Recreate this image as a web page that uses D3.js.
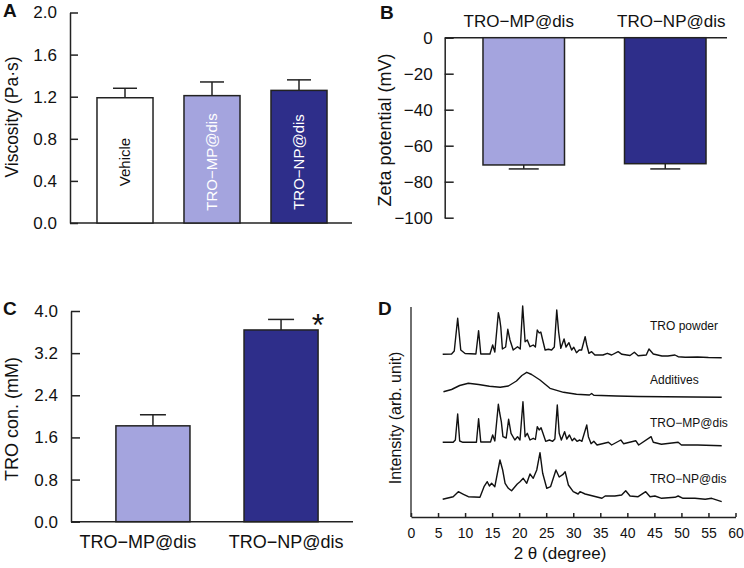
<!DOCTYPE html>
<html lang="en">
<head>
<meta charset="UTF-8"/>
<title>TRO formulations</title>
<script src="https://d3js.org/d3.v7.js"></script>
<style>
  body { margin: 0; background: #fff; }
  svg text { font-family: "Liberation Sans", Arial, sans-serif; fill: #111; }
</style>
</head>
<body>
<div id="fig"></div>
<script>
// ---- data ----
const viscCats = ["Vehicle", "TRO−MP@dis", "TRO−NP@dis"];
const viscMean = [1.19, 1.21, 1.26];
const viscErr  = [0.09, 0.13, 0.10];
const viscTicks = [0, 0.4, 0.8, 1.2, 1.6, 2.0];

const zetaCats = ["TRO−MP@dis", "TRO−NP@dis"];
const zetaMean = [-70.7, -70.0];
const zetaErr  = [2.2, 2.9];
const zetaTicks = [0, -20, -40, -60, -80, -100];

const concCats = ["TRO−MP@dis", "TRO−NP@dis"];
const concMean = [1.82, 3.64];
const concErr  = [0.21, 0.20];
const concTicks = [0, 0.8, 1.6, 2.4, 3.2, 4.0];

const xrdTicks = d3.range(0, 61, 5);
const xrdNames = ["TRO powder", "Additives", "TRO−MP@dis", "TRO−NP@dis"];

// [2theta, intensity] (arb. unit, curves stacked)
const xrdPowder = [[5.86,162.7],[7.5,163],[8.0,166],[8.63,198.7],[9.2,167],[10,163.5],[12.0,163],[12.5,186.3],[12.9,163],
  [14.6,163],[15.1,172],[15.5,165],[16.15,204.3],[16.4,198],[16.6,190],[16.9,168],[17.5,170],[17.9,187.7],[18.3,177],
  [18.9,167],[19.7,170.3],[20.2,168],[20.65,211],[21.1,175.3],[21.5,177],[22.0,170.3],[22.6,172],[23.0,170],[23.35,187],
  [23.7,184],[24.0,185],[24.35,177],[24.8,167],[25.4,167.7],[26.0,167],[26.5,170],[26.95,207],[27.3,185],[27.7,168.7],
  [28.3,178],[28.66,170],[29.2,174.3],[29.7,167],[30.1,169.7],[30.6,164.3],[31.1,167],[31.55,167],[32.2,180.3],[32.5,172],
  [32.9,163.7],[33.4,165.3],[34.0,162],[35.5,162],[36.3,163.7],[37.1,162],[38.3,165.3],[39.0,162.7],[40.5,161.5],[41.3,164.7],
  [42.0,161.3],[43.5,162],[44.0,168],[44.8,163],[46.4,161],[47.5,161],[48.8,162],[49.4,160.3],[50.7,159.7],[53,160],[55,159.5],[57.45,159.3]];
const xrdAdditives = [[6.0,125.3],[7.5,127.5],[9.0,131.5],[10.6,133.7],[12.5,132.5],[14.5,130.8],[16.5,129.7],[18.0,131],
  [19.5,136],[20.5,141.5],[21.4,144.7],[22.3,142.5],[23.85,137],[25.7,128.7],[28.2,124.7],[30.6,122.7],[33.0,122],[33.4,123.5],
  [33.8,121.8],[38,121],[42,120.5],[47,120.3],[52,120],[57.45,119.7]];
const xrdMP = [[5.86,74.7],[7.8,74.7],[8.2,77],[8.63,103],[9.0,76],[9.6,74.7],[12.1,74.7],[12.5,98.3],[12.9,75],[14.7,75],
  [15.1,82],[15.5,76],[16.15,112.7],[16.4,104],[16.7,95.3],[17.0,80.3],[17.6,79],[18.05,97.7],[18.5,83.7],[19.2,77],[19.7,80.3],
  [20.15,77],[20.7,115.3],[21.1,80.3],[21.5,83.7],[22.0,77],[22.6,78.7],[23.0,77.5],[23.35,90.3],[23.7,87],[24.05,89.3],[24.4,83.7],
  [24.9,75.7],[25.6,77],[26.2,75.7],[26.6,78],[27.05,112],[27.4,83.7],[27.8,77],[28.4,85.3],[28.8,78],[29.3,82],[29.8,76.3],
  [30.2,78.7],[30.7,75.7],[31.2,77],[31.6,75.7],[32.5,92],[32.8,80.3],[33.3,73.3],[33.8,75.7],[34.4,72],[36.5,74.7],[37.1,72],
  [38.8,77],[39.3,73.3],[41.55,76.3],[42.1,72],[44.4,80.3],[44.8,74.7],[46.3,72.7],[49.4,74.7],[50,72],[53,72],[57.45,71.3]];
const xrdNP = [[5.86,17.7],[7.8,20.3],[8.75,25.3],[9.7,22.7],[10.6,20.3],[12.75,19.7],[13.5,30.3],[14.1,35.3],[14.5,31],[14.9,33.7],
  [15.5,30.3],[16.45,57],[16.95,47],[17.4,33.7],[18.0,28.7],[18.6,26.3],[19.65,33],[20.15,35.3],[20.75,38.7],[21.4,33.7],[22.0,43],
  [22.6,38.7],[23.25,47],[23.85,64.3],[24.35,43.7],[25.1,28.7],[25.8,30.3],[26.8,47],[27.4,40],[28.05,42.3],[28.5,45.3],[29.1,32],
  [30.0,25.3],[30.9,23],[31.25,25.3],[32.2,23],[35.3,18.7],[35.9,21],[37.7,21],[38.95,22],[39.7,26.3],[40.5,21],[42.0,20.3],
  [43.4,25.3],[44.2,20.3],[45.1,21],[46.35,18.7],[48.8,19.7],[49.4,21],[50.3,18.7],[52.5,18.7],[54.4,17.7],[55.6,18.7],[57.45,15.3]];

const lightPurple = "#a4a4de", darkBlue = "#2e2e8a", edge = "#222";
const barColors = ["#ffffff", lightPurple, darkBlue];

const svg = d3.select("#fig").append("svg")
  .attr("width", 744).attr("height", 568);

function panelLetter(t, x, y) {
  svg.append("text").attr("x", x).attr("y", y)
    .style("font-size", "19px").style("font-weight", "bold").text(t);
}
function yTitle(t, x, y, size) {
  svg.append("text").attr("transform", `translate(${x},${y}) rotate(-90)`)
    .attr("text-anchor", "middle").style("font-size", size + "px").text(t);
}
function styleAxis(g, size) {
  g.select(".domain").attr("stroke", edge).attr("stroke-width", 1.5);
  g.selectAll(".tick line").attr("stroke", edge).attr("stroke-width", 1.5);
  g.selectAll(".tick text").style("font-size", size + "px")
    .style("font-family", "'Liberation Sans', Arial, sans-serif").attr("fill", "#111");
}

// ---------------- A: viscosity ----------------
{
  const y = d3.scaleLinear().domain([0, 2]).range([223, 12.5]);
  const x = d3.scaleBand().domain(viscCats).range([81.5, 342.5]).paddingInner(0.356).paddingOuter(0.178);
  const ax = svg.append("g").attr("transform", "translate(70,0)")
    .call(d3.axisLeft(y).tickValues(viscTicks).tickFormat(d3.format(".1f")).tickSizeInner(-8).tickSizeOuter(0).tickPadding(13));
  styleAxis(ax, 17);
  svg.append("line").attr("x1", 70).attr("x2", 352).attr("y1", y(0)).attr("y2", y(0))
    .attr("stroke", edge).attr("stroke-width", 1.5);

  const g = svg.append("g");
  viscCats.forEach((c, i) => {
    const cx = x(c) + x.bandwidth() / 2;
    g.append("line").attr("x1", cx).attr("x2", cx).attr("y1", y(viscMean[i])).attr("y2", y(viscMean[i] + viscErr[i]))
      .attr("stroke", edge).attr("stroke-width", 1.5);
    g.append("line").attr("x1", cx - 12).attr("x2", cx + 12)
      .attr("y1", y(viscMean[i] + viscErr[i])).attr("y2", y(viscMean[i] + viscErr[i]))
      .attr("stroke", edge).attr("stroke-width", 1.5);
    g.append("rect").attr("x", x(c)).attr("y", y(viscMean[i]))
      .attr("width", x.bandwidth()).attr("height", y(0) - y(viscMean[i]))
      .attr("fill", barColors[i]).attr("stroke", edge).attr("stroke-width", 1.5);
    g.append("text").attr("transform", `translate(${cx + 5},162) rotate(-90)`)
      .attr("text-anchor", "middle").style("font-size", "15px")
      .style("fill", i == 0 ? "#111" : "#fff").text(c);
  });
  yTitle("Viscosity (Pa·s)", 18, 117, 17.5);
  panelLetter("A", 3, 17);
}

// ---------------- B: zeta potential ----------------
{
  const y = d3.scaleLinear().domain([-100, 0]).range([217.7, 37.7]);
  const x = d3.scaleBand().domain(zetaCats).range([447.6, 741.4]).paddingInner(0.424).paddingOuter(0.25);
  const ax = svg.append("g").attr("transform", "translate(444.7,0)")
    .call(d3.axisLeft(y).tickValues(zetaTicks).tickSizeInner(-9).tickSizeOuter(0).tickPadding(12));
  styleAxis(ax, 17);
  svg.append("line").attr("x1", 444.7).attr("x2", 727).attr("y1", y(0)).attr("y2", y(0))
    .attr("stroke", edge).attr("stroke-width", 1.5);

  const g = svg.append("g");
  zetaCats.forEach((c, i) => {
    const cx = x(c) + x.bandwidth() / 2;
    const lo = zetaMean[i] - zetaErr[i];
    g.append("line").attr("x1", cx).attr("x2", cx).attr("y1", y(zetaMean[i])).attr("y2", y(lo))
      .attr("stroke", edge).attr("stroke-width", 1.5);
    g.append("line").attr("x1", cx - 15).attr("x2", cx + 15).attr("y1", y(lo)).attr("y2", y(lo))
      .attr("stroke", edge).attr("stroke-width", 1.5);
    g.append("rect").attr("x", x(c)).attr("y", y(0))
      .attr("width", x.bandwidth()).attr("height", y(zetaMean[i]) - y(0))
      .attr("fill", barColors[i + 1]).attr("stroke", edge).attr("stroke-width", 1.5);
    g.append("text").attr("x", cx + (i == 0 ? -5 : 6)).attr("y", 27)
      .attr("text-anchor", "middle").style("font-size", "17px").text(c);
  });
  yTitle("Zeta potential (mV)", 391, 130, 18);
  panelLetter("B", 380, 19);
}

// ---------------- C: TRO concentration ----------------
{
  const y = d3.scaleLinear().domain([0, 4]).range([521.7, 311]);
  const x = d3.scaleBand().domain(concCats).range([90.3, 343.7]).paddingInner(0.422).paddingOuter(0.2);
  const ax = svg.append("g").attr("transform", "translate(71,0)")
    .call(d3.axisLeft(y).tickValues(concTicks).tickFormat(d3.format(".1f")).tickSizeInner(-9).tickSizeOuter(0).tickPadding(13));
  styleAxis(ax, 17);
  svg.append("line").attr("x1", 71).attr("x2", 353).attr("y1", y(0)).attr("y2", y(0))
    .attr("stroke", edge).attr("stroke-width", 1.5);

  const g = svg.append("g");
  concCats.forEach((c, i) => {
    const cx = x(c) + x.bandwidth() / 2;
    const hi = concMean[i] + concErr[i];
    g.append("line").attr("x1", cx).attr("x2", cx).attr("y1", y(concMean[i])).attr("y2", y(hi))
      .attr("stroke", edge).attr("stroke-width", 1.5);
    g.append("line").attr("x1", cx - 13).attr("x2", cx + 13).attr("y1", y(hi)).attr("y2", y(hi))
      .attr("stroke", edge).attr("stroke-width", 1.5);
    g.append("rect").attr("x", x(c)).attr("y", y(concMean[i]))
      .attr("width", x.bandwidth()).attr("height", y(0) - y(concMean[i]))
      .attr("fill", barColors[i + 1]).attr("stroke", edge).attr("stroke-width", 1.5);
    g.append("text").attr("x", cx + (i == 0 ? -15 : 5)).attr("y", 548)
      .attr("text-anchor", "middle").style("font-size", "18px").text(c);
  });
  // significance mark
  const nx = x(concCats[1]) + x.bandwidth();
  svg.append("text").attr("x", nx).attr("y", y(concMean[1] + concErr[1]) + 17)
    .attr("text-anchor", "middle").style("font-size", "32px").text("*");
  yTitle("TRO con. (mM)", 18, 419, 18);
  panelLetter("C", 3, 315);
}

// ---------------- D: XRD ----------------
{
  const x = d3.scaleLinear().domain([0, 60]).range([411, 735.5]);
  const y = d3.scaleLinear().domain([0, 210]).range([517, 307]);
  const ax = svg.append("g").attr("transform", "translate(0,517)")
    .call(d3.axisBottom(x).tickValues(xrdTicks).tickSizeInner(-4).tickSizeOuter(0).tickPadding(11));
  styleAxis(ax, 14);
  ax.select(".domain").attr("stroke-width", 1.3);
  svg.append("line").attr("x1", 411).attr("x2", 411).attr("y1", 307).attr("y2", 517)
    .attr("stroke", edge).attr("stroke-width", 1.3);

  const line = d3.line().x(d => x(d[0])).y(d => y(d[1]));
  const curves = [xrdPowder, xrdAdditives, xrdMP, xrdNP];
  svg.append("g").selectAll("path").data(curves).join("path")
    .attr("d", line).attr("fill", "none").attr("stroke", "#111")
    .attr("stroke-width", 1.4).attr("stroke-linejoin", "round");

  const labelY = [330, 384, 427, 483];
  svg.append("g").selectAll("text").data(xrdNames).join("text")
    .attr("x", 650).attr("y", (d, i) => labelY[i])
    .style("font-size", "12px").text(d => d);

  svg.append("text").attr("x", 560).attr("y", 559).attr("text-anchor", "middle")
    .style("font-size", "17px").text("2 θ  (degree)");
  yTitle("Intensity (arb. unit)", 401, 418, 16);
  panelLetter("D", 378, 315);
}
</script>
</body>
</html>
